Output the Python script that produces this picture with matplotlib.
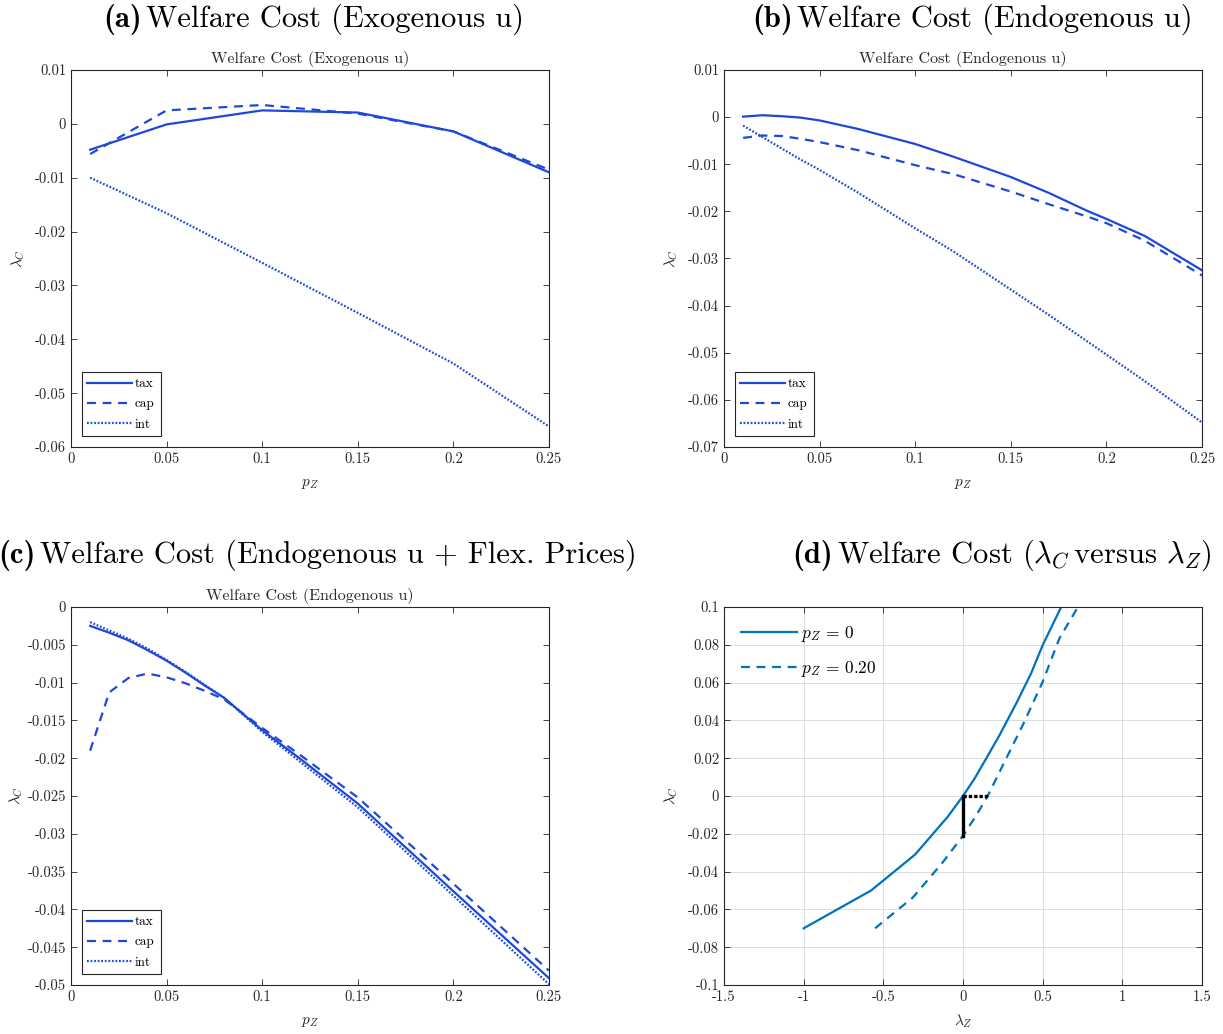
import matplotlib.pyplot as plt
from matplotlib.ticker import FuncFormatter
import numpy as np

plt.rcParams['font.family'] = 'cmr10'
plt.rcParams['mathtext.fontset'] = 'cm'
plt.rcParams['axes.unicode_minus'] = False

BLUE = '#1e48d8'
MBLUE = '#0072BD'
GREY = '#262626'

# panel (a): exogenous u
pz_a = [0.01, 0.05, 0.10, 0.15, 0.20, 0.25]
tax_a = [-0.0048, -0.0001, 0.0025, 0.0021, -0.0014, -0.0090]
cap_a = [-0.0056, 0.0025, 0.0035, 0.0019, -0.0014, -0.0085]
int_a = [-0.0100, -0.0166, -0.0258, -0.0351, -0.0445, -0.0562]

# panel (b): endogenous u
pz_b = [0.01, 0.02, 0.03, 0.04, 0.05, 0.07, 0.10, 0.12, 0.15, 0.17, 0.19, 0.20, 0.22, 0.25]
tax_b = [0.0001, 0.0004, 0.0002, -0.0001, -0.0007, -0.0025, -0.0057, -0.0084, -0.0127,
         -0.0161, -0.0199, -0.0216, -0.0252, -0.0325]
cap_b = [-0.0044, -0.0039, -0.0040, -0.0046, -0.0053, -0.0070, -0.0102, -0.0121, -0.0158,
         -0.0185, -0.0211, -0.0225, -0.0262, -0.0336]
int_b = [-0.0018, -0.0042, -0.0066, -0.0090, -0.0112, -0.0160, -0.0236, -0.0285, -0.0366,
         -0.0420, -0.0476, -0.0504, -0.0560, -0.0648]

# panel (c): endogenous u + flexible prices
pz_c = [0.01, 0.02, 0.03, 0.04, 0.05, 0.06, 0.07, 0.08, 0.10, 0.12, 0.15, 0.20, 0.25]
tax_c = [-0.0025, -0.0034, -0.0044, -0.0057, -0.0071, -0.0087, -0.0104, -0.0120, -0.0163,
         -0.0201, -0.0260, -0.0376, -0.0491]
cap_c = [-0.0190, -0.0113, -0.0094, -0.0088, -0.0093, -0.0101, -0.0111, -0.0122, -0.0160,
         -0.0196, -0.0252, -0.0366, -0.0481]
int_c = [-0.0020, -0.0031, -0.0042, -0.0055, -0.0070, -0.0086, -0.0103, -0.0120, -0.0165,
         -0.0205, -0.0265, -0.0382, -0.0499]

# panel (d): lambda_C versus lambda_Z
lz_0 = [-1.0, -0.577, -0.301, -0.096, 0.0, 0.071, 0.144, 0.228, 0.333, 0.427, 0.5, 0.615]
lc_0 = [-0.070, -0.050, -0.031, -0.011, 0.0, 0.009, 0.0196, 0.032, 0.0488, 0.0648, 0.0798, 0.0998]
lz_20 = [-0.552, -0.316, -0.128, 0.0, 0.082, 0.155, 0.249, 0.374, 0.5, 0.605, 0.72]
lc_20 = [-0.070, -0.0538, -0.0352, -0.021, -0.0104, 0.0, 0.0161, 0.0373, 0.0604, 0.0834, 0.0998]
drop_x = [0.0, 0.0]
drop_y = [0.0, -0.021]
shift_x = [0.0, 0.155]
shift_y = [0.0, 0.0]

W, H = 1223, 1034
fig = plt.figure(figsize=(W / 100, H / 100), dpi=100)


def px_axes(left, top, right, bottom):
    return fig.add_axes([left / W, 1 - bottom / H, (right - left) / W, (bottom - top) / H])


fmt = FuncFormatter(lambda v, pos: '%g' % (round(v, 6) + 0.0))


def style(ax):
    ax.tick_params(direction='in', top=True, right=True, labelsize=10.5,
                   colors=GREY, length=4, width=0.6)
    for s in ax.spines.values():
        s.set_color(GREY)
        s.set_linewidth(0.8)
    ax.xaxis.set_major_formatter(fmt)
    ax.yaxis.set_major_formatter(fmt)


def pz_panel(ax, x, tax, cap, intr, ylim, yticks, title, ypad=6):
    ax.plot(x, tax, color=BLUE, lw=1.6, ls='-', label='tax')
    ax.plot(x, cap, color=BLUE, lw=1.6, ls=(0, (4, 3)), label='cap')
    ax.plot(x, intr, color=BLUE, lw=1.6, ls=(0, (0.8, 0.8)), label='int')
    ax.set_xlim(0, 0.25)
    ax.set_ylim(*ylim)
    ax.set_xticks(np.arange(0, 0.2501, 0.05))
    ax.set_yticks(yticks)
    style(ax)
    ax.set_title(title, fontsize=11.5, pad=5, color=GREY)
    ax.set_xlabel('$p_Z$', fontsize=11, color=GREY, labelpad=8)
    ax.set_ylabel(r'$\lambda_C$', fontsize=11, color=GREY, labelpad=ypad)
    leg = ax.legend(loc='lower left', fontsize=9.5, handlelength=3.4, handletextpad=0.2,
                    fancybox=False, edgecolor=GREY, framealpha=1, borderpad=0.45,
                    labelspacing=0.6, borderaxespad=0.8)
    leg.get_frame().set_linewidth(0.8)


ax_a = px_axes(71, 70, 549, 447)
pz_panel(ax_a, pz_a, tax_a, cap_a, int_a, (-0.06, 0.01),
         np.arange(-0.06, 0.0101, 0.01), 'Welfare Cost (Exogenous u)')

ax_b = px_axes(724, 70, 1202, 447)
pz_panel(ax_b, pz_b, tax_b, cap_b, int_b, (-0.07, 0.01),
         np.arange(-0.07, 0.0101, 0.01), 'Welfare Cost (Endogenous u)')

ax_c = px_axes(71, 607, 549, 985)
pz_panel(ax_c, pz_c, tax_c, cap_c, int_c, (-0.05, 0.0),
         np.arange(-0.05, 0.0001, 0.005), 'Welfare Cost (Endogenous u)', ypad=2)

ax_d = px_axes(724, 607, 1202, 985)
ax_d.plot(lz_0, lc_0, color=MBLUE, lw=1.6, label=r'$p_Z\,=\,0$')
ax_d.plot(lz_20, lc_20, color=MBLUE, lw=1.6, ls=(0, (4, 3)), label=r'$p_Z\,=\,0.20$')
ax_d.plot(drop_x, drop_y, color='black', lw=2.4)
ax_d.plot(shift_x, shift_y, color='black', lw=2.4, ls=(0, (1, 0.6)))
ax_d.set_xlim(-1.5, 1.5)
ax_d.set_ylim(-0.1, 0.1)
ax_d.set_xticks(np.arange(-1.5, 1.51, 0.5))
ax_d.set_yticks(np.arange(-0.1, 0.1001, 0.02))
ax_d.grid(True, color='#dcdcdc', lw=0.7)
ax_d.set_axisbelow(True)
style(ax_d)
ax_d.set_xlabel(r'$\lambda_Z$', fontsize=11, color=GREY, labelpad=6)
ax_d.set_ylabel(r'$\lambda_C$', fontsize=11, color=GREY, labelpad=6)
ax_d.legend(loc='upper left', fontsize=12.5, frameon=False, handlelength=3.2,
            handletextpad=0.25, labelspacing=0.85, borderaxespad=0.6)

# sub-figure captions
captions = [
    (146, 27, '(a)', 'Welfare Cost (Exogenous u)'),
    (797, 27, '(b)', 'Welfare Cost (Endogenous u)'),
    (40, 563, '(c)', 'Welfare Cost (Endogenous u + Flex. Prices)'),
    (837, 563, '(d)', r'Welfare Cost ($\lambda_C\,$versus $\lambda_Z$)'),
]
for x, y, lab, txt in captions:
    fig.text(x / W, 1 - y / H, txt, fontsize=22, ha='left', va='baseline')
    fig.text((x - 4) / W, 1 - y / H, lab, fontsize=22, ha='right', va='baseline',
             family='cmb10')

fig.savefig('out.png', dpi=100)
